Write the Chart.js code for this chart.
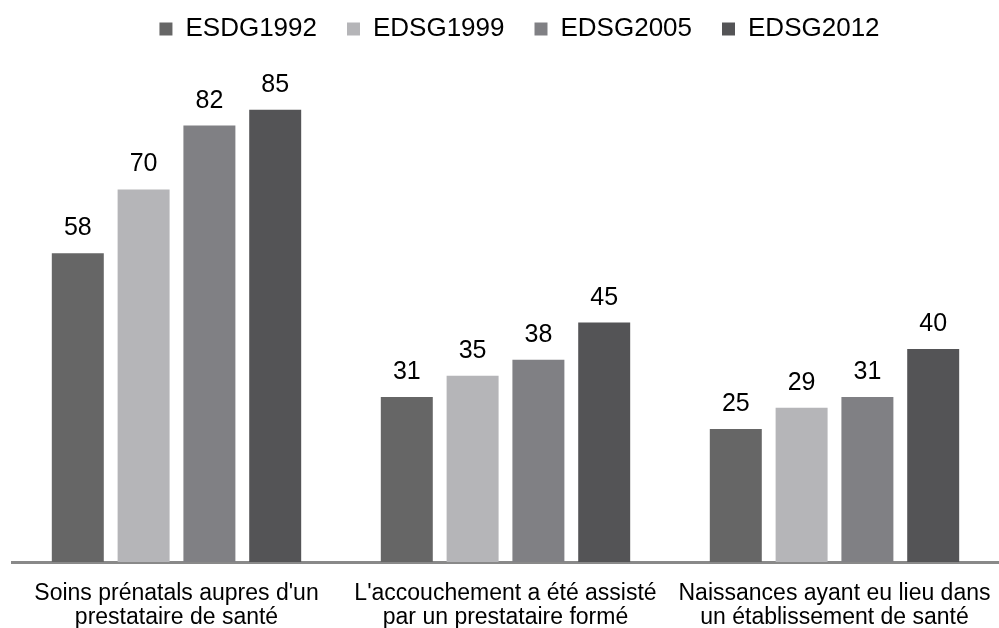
<!DOCTYPE html>
<html>
<head>
<meta charset="utf-8">
<script src="https://cdn.jsdelivr.net/npm/chart.js@4"></script>
<style>
    html, body { margin: 0; padding: 0; background: #ffffff; }
    #wrap { width: 999px; height: 628px; position: relative; }
</style>
</head>
<body>
<div id="wrap"><canvas id="chart"></canvas></div>
<script>
// Categories (two-line labels) and survey series
const categories = [
    ["Soins prénatals aupres d'un", "prestataire de santé"],
    ["L'accouchement a été assisté", "par un prestataire formé"],
    ["Naissances ayant eu lieu dans", "un établissement de santé"]
];
const seriesNames = ['ESDG1992', 'EDSG1999', 'EDSG2005', 'EDSG2012'];
const values1992 = [58, 31, 25];
const values1999 = [70, 35, 29];
const values2005 = [82, 38, 31];
const values2012 = [85, 45, 40];
const seriesColors = ['#666666', '#b5b5b8', '#808084', '#545456'];

const allValues = [values1992, values1999, values2005, values2012];
const FONT = '"Liberation Sans", Arial, sans-serif';

// Draw the value above each bar
const valueLabels = {
    id: 'valueLabels',
    afterDatasetsDraw(chart) {
        const ctx = chart.ctx;
        ctx.save();
        ctx.font = '25px ' + FONT;
        ctx.fillStyle = '#000000';
        ctx.textAlign = 'center';
        ctx.textBaseline = 'alphabetic';
        chart.data.datasets.forEach((ds, i) => {
            const meta = chart.getDatasetMeta(i);
            meta.data.forEach((bar, j) => {
                ctx.fillText(ds.data[j], bar.x, bar.y - 18);
            });
        });
        ctx.restore();
    }
};

// The legend sits a little right of centre and close to the top edge
const legendShift = {
    id: 'legendShift',
    afterLayout(chart) {
        const lg = chart.legend;
        lg.left += 14;
        lg.right += 14;
        lg.top -= 14;
        lg.bottom -= 14;
    }
};

const ctx = document.getElementById('chart').getContext('2d');
new Chart(ctx, {
    type: 'bar',
    data: {
        labels: categories,
        datasets: seriesNames.map((name, i) => ({
            label: name,
            data: allValues[i],
            backgroundColor: seriesColors[i],
            borderWidth: 0,
            categoryPercentage: 0.8,
            barPercentage: 0.79
        }))
    },
    options: {
        responsive: true,
        maintainAspectRatio: false,
        animation: false,
        layout: { padding: { left: 12, right: 0, top: 0, bottom: 0 } },
        plugins: {
            legend: {
                position: 'top',
                labels: {
                    boxWidth: 13,
                    boxHeight: 13,
                    padding: 30,
                    color: '#000000',
                    font: { family: FONT, size: 26 }
                }
            },
            tooltip: { enabled: false }
        },
        scales: {
            x: {
                grid: { display: false, drawTicks: false },
                border: { display: true, color: '#898989', width: 3 },
                ticks: {
                    color: '#000000',
                    padding: 20,
                    maxRotation: 0,
                    autoSkip: false,
                    font: { family: FONT, size: 23, lineHeight: '24px' }
                },
                afterFit(scale) {
                    scale.height = 66;
                    scale.paddingLeft = 0;
                    scale.paddingRight = 0;
                }
            },
            y: {
                display: false,
                min: 0,
                max: 93.2
            }
        }
    },
    plugins: [valueLabels, legendShift]
});
</script>
</body>
</html>
